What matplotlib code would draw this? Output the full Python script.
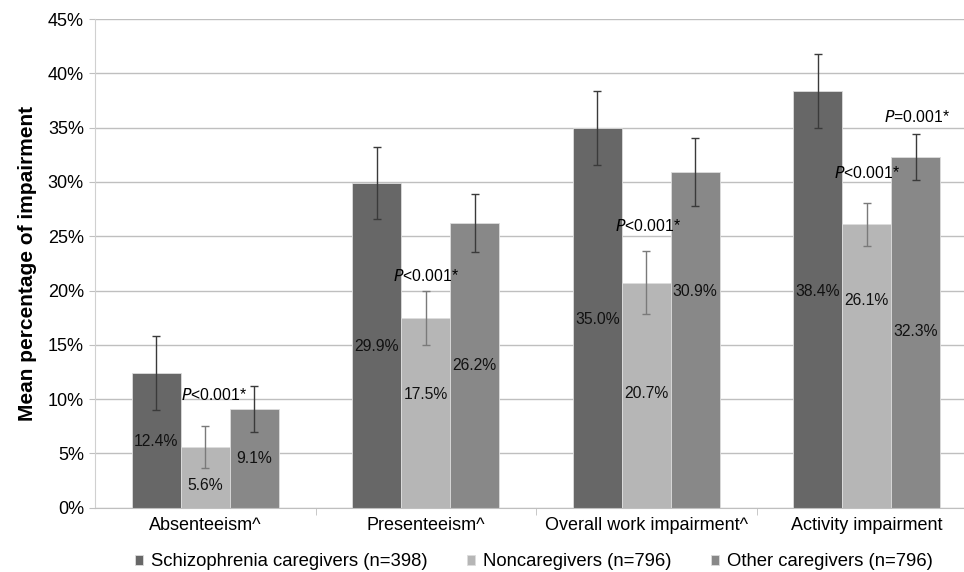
import numpy as np
import matplotlib.pyplot as plt
from matplotlib.ticker import FuncFormatter, MultipleLocator, FixedLocator

plt.rcParams['font.family'] = ['Liberation Sans', 'DejaVu Sans']

categories = ['Absenteeism^', 'Presenteeism^', 'Overall work impairment^', 'Activity impairment']
series = ['Schizophrenia caregivers (n=398)', 'Noncaregivers (n=796)', 'Other caregivers (n=796)']

schizo = [12.4, 29.9, 35.0, 38.4]
noncare = [5.6, 17.5, 20.7, 26.1]
other = [9.1, 26.2, 30.9, 32.3]

schizo_err = [3.4, 3.35, 3.4, 3.4]
noncare_err = [1.95, 2.5, 2.9, 1.97]
other_err = [2.15, 2.7, 3.1, 2.1]

# where the value labels sit inside the bars
schizo_lab_y = [6.1, 14.8, 17.35, 19.95]
noncare_lab_y = [2.0, 10.45, 10.55, 19.1]
other_lab_y = [4.55, 13.05, 19.95, 16.25]

p_texts = ['<0.001*', '<0.001*', '<0.001*', '<0.001*', '=0.001*']
p_cat = [0, 1, 2, 3, 3]
p_dx = [0.04, 0.0, 0.01, 0.0, 0.23]
p_y = [10.35, 21.3, 25.9, 30.8, 35.95]

colors = ['#676767', '#b6b6b6', '#888888']
err_colors = ['#3a3a3a', '#7a7a7a', '#3a3a3a']

fig = plt.figure(figsize=(9.64, 5.72), dpi=100)
ax = fig.add_axes([95 / 964, (572 - 507.7) / 572, (977 - 95) / 964, (507.7 - 19) / 572])

x = np.arange(len(categories))
w = 0.222
vals = [schizo, noncare, other]
errs = [schizo_err, noncare_err, other_err]
labs = [schizo_lab_y, noncare_lab_y, other_lab_y]
for i in range(3):
    xs = x + (i - 1) * w
    ax.bar(xs, vals[i], w, color=colors[i], edgecolor='#dddddd', linewidth=0.6,
           label=series[i], zorder=2)
    ax.errorbar(xs, vals[i], yerr=errs[i], fmt='none', ecolor=err_colors[i],
                elinewidth=1, capsize=2.7, capthick=1, zorder=3)
    for xi, v, ly in zip(xs, vals[i], labs[i]):
        ax.text(xi, ly, f'{v:.1f}%', ha='center', va='center', fontsize=11.3,
                color='#111111', zorder=4)

for j in range(len(p_texts)):
    ax.text(x[p_cat[j]] + p_dx[j], p_y[j], r'$\it{P}$' + p_texts[j], ha='center',
            va='center', fontsize=11.3, zorder=4)

ax.set_xlim(-0.5, 3.5)
ax.set_ylim(0, 45)
ax.yaxis.set_major_locator(MultipleLocator(5))
ax.yaxis.set_major_formatter(FuncFormatter(lambda v, p: f'{v:.0f}%'))
ax.grid(axis='y', color='#bfbfbf', linewidth=1, zorder=0)
ax.set_axisbelow(True)

ax.set_xticks(x)
ax.set_xticklabels(categories, fontsize=13)
ax.tick_params(axis='x', which='major', length=0, pad=7)
ax.xaxis.set_minor_locator(FixedLocator([0.5, 1.5, 2.5]))
ax.tick_params(axis='x', which='minor', length=5, color='#bfbfbf')
ax.tick_params(axis='y', length=4, color='#bfbfbf', labelsize=13, pad=4)

for s in ['top', 'right']:
    ax.spines[s].set_visible(False)
ax.spines['left'].set_color('#d0d0d0')
ax.spines['bottom'].set_color('#bfbfbf')

ax.set_ylabel('Mean percentage of impairment', fontsize=15, fontweight='bold', labelpad=8)

fig.legend(loc='center', bbox_to_anchor=(0.554, 0.018), ncol=3, frameon=False,
           fontsize=13.3, handlelength=0.45, handleheight=0.45, handletextpad=0.45,
           columnspacing=2.1, borderpad=0)

fig.savefig('out.png', dpi=100)
